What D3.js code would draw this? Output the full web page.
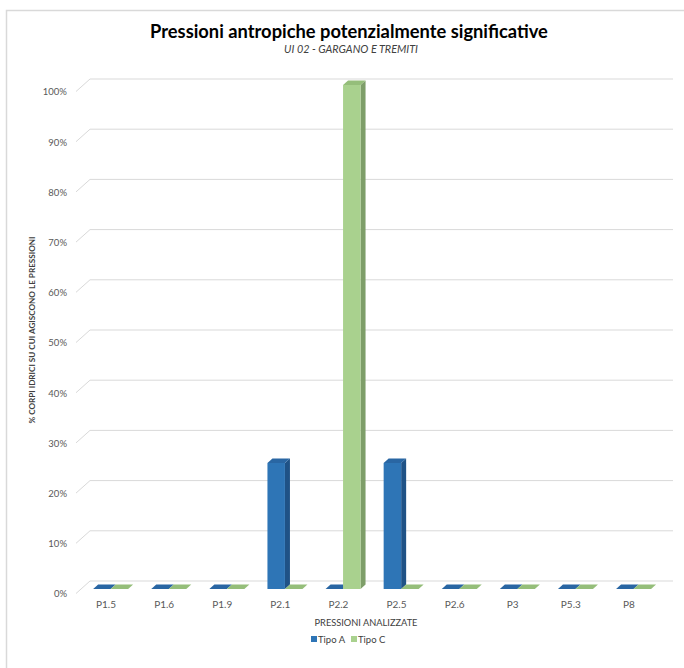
<!DOCTYPE html>
<html>
<head>
<meta charset="utf-8">
<script src="https://cdn.jsdelivr.net/npm/d3@7"></script>
<style>
  html, body { margin: 0; padding: 0; background: #ffffff; }
  svg { display: block; }
</style>
</head>
<body>
<svg id="chart" width="684" height="668"></svg>
<script>
// ---- data ----
const categories = ["P1.5", "P1.6", "P1.9", "P2.1", "P2.2", "P2.5", "P2.6", "P3", "P5.3", "P8"];
const tipoA = [0, 0, 0, 0.25, 0, 0.25, 0, 0, 0, 0];
const tipoC = [0, 0, 0, 0, 1.0, 0, 0, 0, 0, 0];
const seriesNames = ["Tipo A", "Tipo C"];
const yTicks = [0, 0.1, 0.2, 0.3, 0.4, 0.5, 0.6, 0.7, 0.8, 0.9, 1.0];
const titleText = "Pressioni antropiche potenzialmente significative";
const subtitleText = "UI 02 - GARGANO E TREMITI";
const xTitleText = "PRESSIONI ANALIZZATE";
const yTitleText = "% CORPI IDRICI SU CUI AGISCONO LE PRESSIONI";

// ---- styles ----
const FONT = "Lato, 'Open Sans', 'DejaVu Sans', sans-serif";
const colors = {
  "Tipo A": { front: "#2E75B6", side: "#1F5286", top: "#2966A3" },
  "Tipo C": { front: "#A9D18E", side: "#7E9E69", top: "#95BE7A" }
};

const svg = d3.select("#chart");
svg.append("rect").attr("width", 684).attr("height", 668).attr("fill", "#ffffff");

// chart frame (partially visible)
svg.append("path")
  .attr("d", "M6.5,668 L6.5,10.5 L684,10.5")
  .attr("fill", "none").attr("stroke", "#D9D9D9").attr("stroke-width", 1.5);

// scales
const x = d3.scaleBand().domain(categories).range([77, 658]).paddingInner(0).paddingOuter(0);
const yBack = d3.scaleLinear().domain([0, 1]).range([581, 79]);   // back wall (gridlines)
const yFront = d3.scaleLinear().domain([0, 1]).range([589, 85]);  // front plane of bars
const DX = 5, DY = -4.5;       // bar depth
const FLOOR_DX = 14, FLOOR_DY = -12.5; // floor depth for gridlines
const barW = 17.5;
const pairShift = 4.6;
const gridRight = 673;

// gridlines with 3D floor/side segments
const grid = svg.append("g");
yTicks.forEach(v => {
  const yb = yBack(v);
  const x0 = 90;
  grid.append("path")
    .attr("d", `M${x0 - FLOOR_DX},${yb - FLOOR_DY} L${x0},${yb} L${gridRight},${yb}`)
    .attr("fill", "none").attr("stroke", "#D9D9D9").attr("stroke-width", 1);
});

// y tick labels
const fmt = d3.format(".0%");
svg.append("g").selectAll("text").data(yTicks).join("text")
  .attr("x", 67)
  .attr("y", d => yBack(d) - FLOOR_DY + 0.5)
  .attr("dy", "0.35em")
  .attr("text-anchor", "end")
  .attr("font-family", FONT)
  .attr("font-size", 9.5)
  .attr("fill", "#595959")
  .text(d => fmt(d));

// bars
const barsG = svg.append("g");
function drawBar(xl, v, name) {
  const c = colors[name];
  const y0 = yFront(0), y1 = yFront(v);
  const g = barsG.append("g");
  // side face
  if (y0 - y1 > 0.01) {
    g.append("path")
      .attr("d", `M${xl + barW},${y1} L${xl + barW + DX},${y1 + DY} L${xl + barW + DX},${y0 + DY} L${xl + barW},${y0} Z`)
      .attr("fill", c.side);
  }
  // top face
  g.append("path")
    .attr("d", `M${xl},${y1} L${xl + DX},${y1 + DY} L${xl + barW + DX},${y1 + DY} L${xl + barW},${y1} Z`)
    .attr("fill", c.top);
  // front face
  if (y0 - y1 > 0.01) {
    g.append("rect")
      .attr("x", xl).attr("y", y1).attr("width", barW).attr("height", y0 - y1)
      .attr("fill", c.front);
  }
}
categories.forEach((cat, i) => {
  const center = x(cat) + x.bandwidth() / 2 + pairShift;
  drawBar(center - barW, tipoA[i], "Tipo A");
  drawBar(center, tipoC[i], "Tipo C");
});

// x tick labels
svg.append("g").selectAll("text").data(categories).join("text")
  .attr("x", d => x(d) + x.bandwidth() / 2)
  .attr("y", 604.5)
  .attr("dy", "0.35em")
  .attr("text-anchor", "middle")
  .attr("font-family", FONT)
  .attr("font-size", 10)
  .attr("fill", "#595959")
  .text(d => d);

// helper: fit text width
function fit(sel, target) {
  const w = sel.node().getComputedTextLength();
  const fs = parseFloat(sel.attr("font-size"));
  sel.attr("font-size", (fs * target / w).toFixed(2));
}

// titles
const t1 = svg.append("text")
  .attr("x", 349).attr("y", 32).attr("dy", "0.35em")
  .attr("text-anchor", "middle")
  .attr("font-family", FONT).attr("font-weight", "bold")
  .attr("font-size", 16).attr("fill", "#000000")
  .text(titleText);
fit(t1, 398);

const t2 = svg.append("text")
  .attr("x", 351).attr("y", 49.5).attr("dy", "0.35em")
  .attr("text-anchor", "middle")
  .attr("font-family", FONT).attr("font-style", "italic")
  .attr("font-size", 10).attr("fill", "#404040")
  .text(subtitleText);
fit(t2, 134);

const xt = svg.append("text")
  .attr("x", 366).attr("y", 622.5).attr("dy", "0.35em")
  .attr("text-anchor", "middle")
  .attr("font-family", FONT)
  .attr("font-size", 9.5).attr("fill", "#404040")
  .text(xTitleText);
fit(xt, 103);

const yt = svg.append("text")
  .attr("transform", "translate(32,330) rotate(-90)")
  .attr("dy", "0.35em")
  .attr("text-anchor", "middle")
  .attr("font-family", FONT).attr("font-weight", "bold")
  .attr("font-size", 9).attr("fill", "#404040")
  .text(yTitleText);
fit(yt, 187);

// legend
const legend = svg.append("g");
const legendItems = [
  { name: seriesNames[0], sx: 311, tx: 318, tw: 29 },
  { name: seriesNames[1], sx: 351, tx: 358, tw: 19 }
];
legendItems.forEach(it => {
  legend.append("rect")
    .attr("x", it.sx).attr("y", 636).attr("width", 6).attr("height", 6)
    .attr("fill", colors[it.name].front);
  legend.append("text")
    .attr("x", it.tx).attr("y", 639.5).attr("dy", "0.35em")
    .attr("font-family", FONT).attr("font-size", 9.5).attr("fill", "#404040")
    .text(it.name);
});
</script>
</body>
</html>
